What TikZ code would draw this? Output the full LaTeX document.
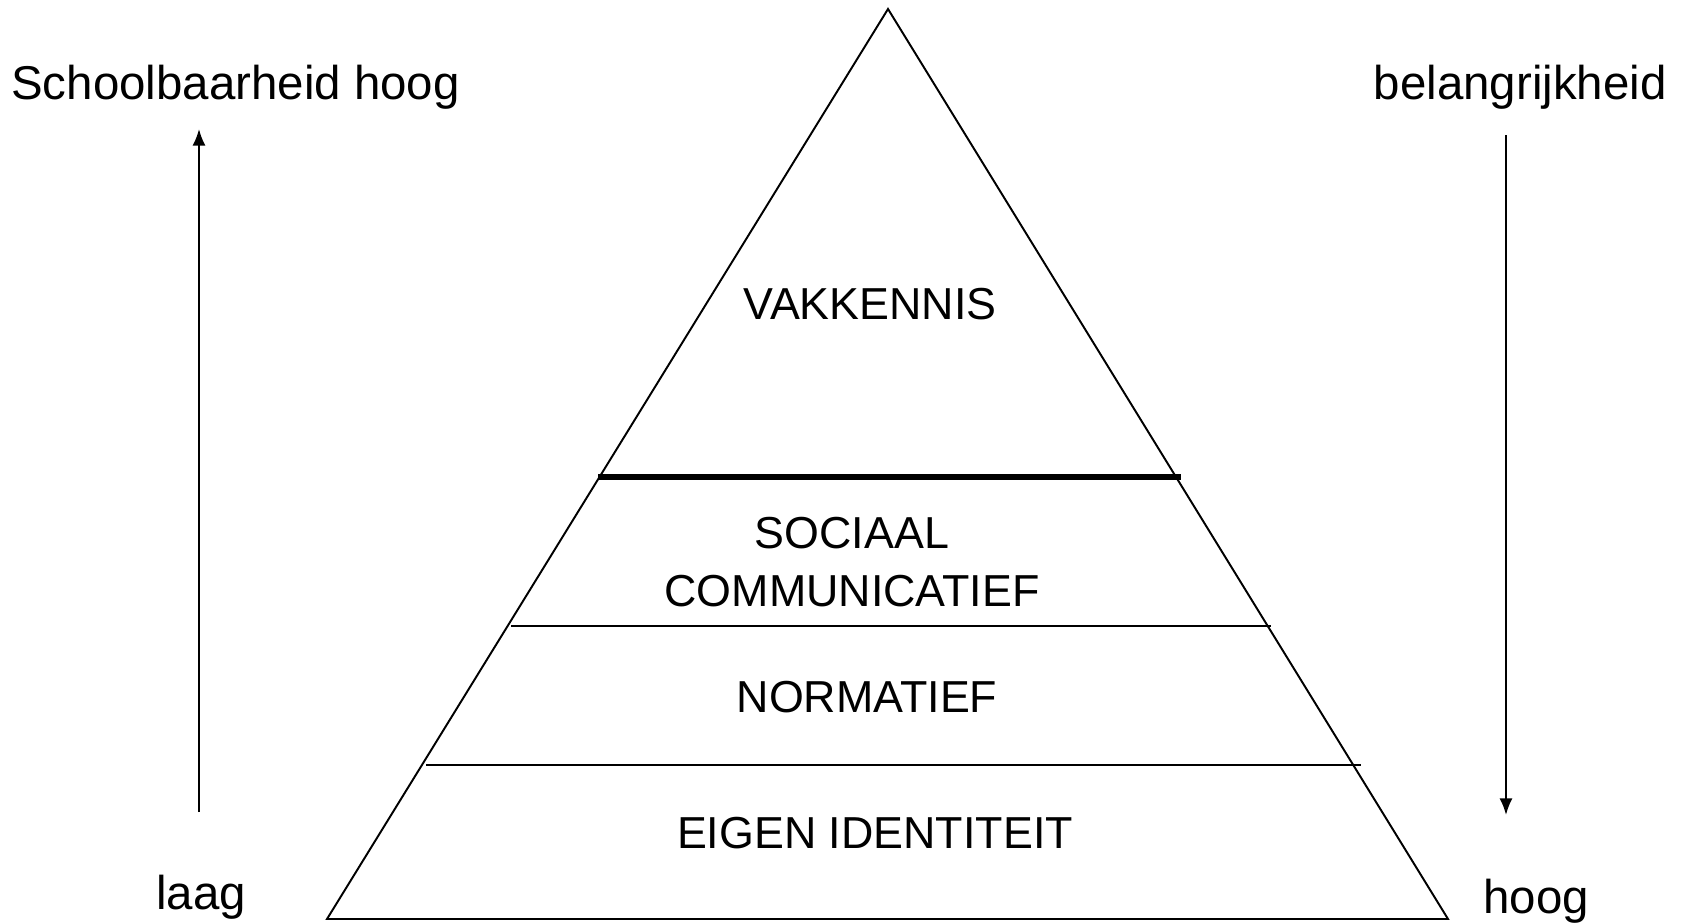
\documentclass[tikz,border=0pt]{standalone}
\usepackage{fontspec}
\setmainfont{Liberation Sans}
\usetikzlibrary{arrows.meta}
\usetikzlibrary{positioning}
\tikzset{
    layer/.style={
           font=\fontsize{25.5}{33}\selectfont,
           inner sep=0pt,
           align=center,
           },
    side/.style={
           font=\fontsize{27}{32}\selectfont,
           inner sep=0pt,
           },
    axis/.style={
           line width=1.2pt,
           -{Latex[length=9.5pt,width=7.5pt]},
           },
}

\begin{document}
\begin{tikzpicture}[x=0.02cm,y=-0.02cm]
   \useasboundingbox (0,0) rectangle (1681,923);
   % pyramid
   \coordinate (top) at (888,9);
   \coordinate (bl)  at (327,919);
   \coordinate (br)  at (1448,919);
   \draw[line width=1.1pt] (top) -- (bl) -- (br) -- cycle;
   \draw[line width=3.4pt] (598,477) -- (1181,477);
   \draw[line width=0.8pt] (511,626) -- (1271,626);
   \draw[line width=0.8pt] (426,765) -- (1361,765);
   \node[layer] (vak)   at (870,304) {VAKKENNIS};
   \node[layer] (soc)   at (852,562) {SOCIAAL\\COMMUNICATIEF};
   \node[layer] (norm)  at (867,697) {NORMATIEF};
   \node[layer] (eigen) at (875,833) {EIGEN IDENTITEIT};
   % side scales
   \node[side, anchor=base west] (school) at (11,99)   {Schoolbaarheid hoog};
   \node[side, anchor=base east] (belang) at (1667,99) {belangrijkheid};
   \node[side, anchor=base] (laag) at (201,909)  {laag};
   \node[side, anchor=base] (hoog) at (1536,913) {hoog};
   \coordinate (l_lo) at (199,812);
   \coordinate (l_hi) at (199,129);
   \coordinate (r_hi) at (1506,135);
   \coordinate (r_lo) at (1506,815);
   \draw[axis] (l_lo) -- (l_hi);
   \draw[axis] (r_hi) -- (r_lo);
\end{tikzpicture}
\end{document}
